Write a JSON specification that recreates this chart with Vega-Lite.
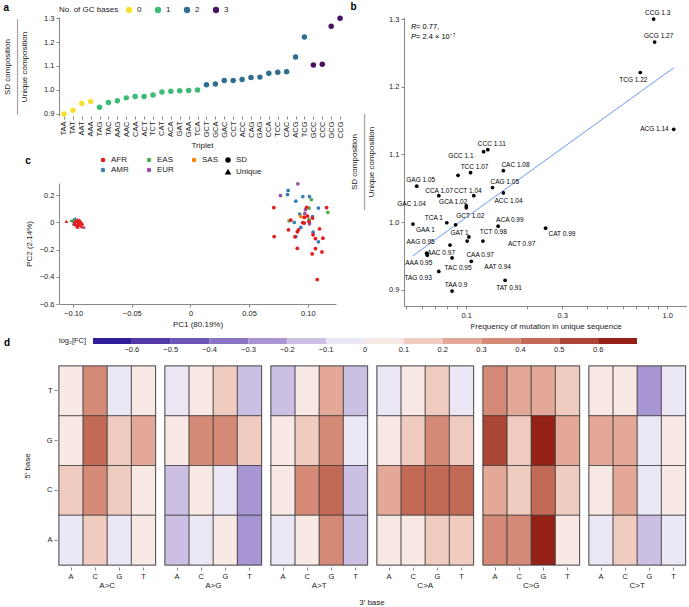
{
  "$schema": "https://vega.github.io/schema/vega-lite/v6.json",
  "background": "white",
  "padding": {"left": 3, "top": 2, "right": 0, "bottom": 0},
  "config": {
    "font": "Liberation Sans",
    "view": {"stroke": null},
    "axis": {"labelFontSize": 7.5, "titleFontSize": 8, "titleFontWeight": "normal", "tickSize": 3, "domainColor": "#888", "tickColor": "#888", "labelColor": "#222", "titleColor": "#222", "grid": false, "labelPadding": 2, "titlePadding": 4},
    "legend": {"labelFontSize": 8, "titleFontSize": 8, "titleFontWeight": "normal", "labelColor": "#222", "titleColor": "#222"},
    "header": {"labelFontSize": 8, "titleFontSize": 8, "titleFontWeight": "normal", "labelColor": "#222", "titleColor": "#222"},
    "title": {"fontSize": 10, "fontWeight": "bold", "anchor": "start", "frame": "bounds", "color": "#000", "offset": 2}
  },
  "datasets": {
    "trip": [
      {"t": "TAA", "r": 0.898, "gc": 0, "f": 0.085},
      {"t": "TAT", "r": 0.914, "gc": 0, "f": 0.156},
      {"t": "AAT", "r": 0.942, "gc": 0, "f": 0.106},
      {"t": "AAA", "r": 0.951, "gc": 0, "f": 0.064},
      {"t": "TAG", "r": 0.927, "gc": 1, "f": 0.073},
      {"t": "TAC", "r": 0.947, "gc": 1, "f": 0.085},
      {"t": "AAG", "r": 0.954, "gc": 1, "f": 0.0635},
      {"t": "AAC", "r": 0.966, "gc": 1, "f": 0.083},
      {"t": "CAA", "r": 0.972, "gc": 1, "f": 0.101},
      {"t": "ACT", "r": 0.972, "gc": 1, "f": 0.121},
      {"t": "TCT", "r": 0.978, "gc": 1, "f": 0.103},
      {"t": "CAT", "r": 0.991, "gc": 1, "f": 0.248},
      {"t": "ACA", "r": 0.994, "gc": 1, "f": 0.144},
      {"t": "GAT", "r": 0.996, "gc": 1, "f": 0.0885},
      {"t": "GAA", "r": 0.997, "gc": 1, "f": 0.0543},
      {"t": "TCA", "r": 0.999, "gc": 1, "f": 0.08},
      {"t": "GCT", "r": 1.021, "gc": 2, "f": 0.1},
      {"t": "GCA", "r": 1.024, "gc": 2, "f": 0.1},
      {"t": "GAC", "r": 1.039, "gc": 2, "f": 0.073},
      {"t": "CCT", "r": 1.039, "gc": 2, "f": 0.109},
      {"t": "ACC", "r": 1.043, "gc": 2, "f": 0.153},
      {"t": "CAG", "r": 1.051, "gc": 2, "f": 0.135},
      {"t": "GAG", "r": 1.053, "gc": 2, "f": 0.0567},
      {"t": "CCA", "r": 1.069, "gc": 2, "f": 0.091},
      {"t": "TCC", "r": 1.073, "gc": 2, "f": 0.105},
      {"t": "CAC", "r": 1.076, "gc": 2, "f": 0.153},
      {"t": "ACG", "r": 1.137, "gc": 2, "f": 1.076},
      {"t": "TCG", "r": 1.221, "gc": 2, "f": 0.734},
      {"t": "GCC", "r": 1.104, "gc": 3, "f": 0.122},
      {"t": "CCC", "r": 1.107, "gc": 3, "f": 0.128},
      {"t": "GCG", "r": 1.266, "gc": 3, "f": 0.865},
      {"t": "CCG", "r": 1.3, "gc": 3, "f": 0.855}
    ],
    "fit": [
      {"f": 0.0542, "r": 0.95},
      {"f": 1.076, "r": 1.228}
    ],
    "pca": [
      {"pc1": 0.0915, "pc2": 0.284, "pop": "EUR", "type": "SD"},
      {"pc1": 0.0767, "pc2": 0.198, "pop": "EUR", "type": "SD"},
      {"pc1": 0.098, "pc2": 0.094, "pop": "EUR", "type": "SD"},
      {"pc1": 0.0974, "pc2": 0.064, "pop": "EUR", "type": "SD"},
      {"pc1": 0.1014, "pc2": -0.01, "pop": "EUR", "type": "SD"},
      {"pc1": 0.0832, "pc2": 0.235, "pop": "AMR", "type": "SD"},
      {"pc1": 0.0827, "pc2": 0.205, "pop": "AMR", "type": "SD"},
      {"pc1": 0.0957, "pc2": 0.19, "pop": "AMR", "type": "SD"},
      {"pc1": 0.1014, "pc2": 0.19, "pop": "AMR", "type": "SD"},
      {"pc1": 0.0898, "pc2": 0.156, "pop": "AMR", "type": "SD"},
      {"pc1": 0.109, "pc2": 0.106, "pop": "AMR", "type": "SD"},
      {"pc1": 0.093, "pc2": 0.062, "pop": "AMR", "type": "SD"},
      {"pc1": 0.104, "pc2": 0.042, "pop": "AMR", "type": "SD"},
      {"pc1": 0.0884, "pc2": 0.0, "pop": "AMR", "type": "SD"},
      {"pc1": 0.094, "pc2": -0.037, "pop": "AMR", "type": "SD"},
      {"pc1": 0.1045, "pc2": -0.072, "pop": "AMR", "type": "SD"},
      {"pc1": 0.0898, "pc2": -0.104, "pop": "AMR", "type": "SD"},
      {"pc1": 0.109, "pc2": -0.143, "pop": "AMR", "type": "SD"},
      {"pc1": 0.103, "pc2": 0.168, "pop": "EAS", "type": "SD"},
      {"pc1": 0.101, "pc2": 0.106, "pop": "EAS", "type": "SD"},
      {"pc1": 0.117, "pc2": 0.074, "pop": "EAS", "type": "SD"},
      {"pc1": 0.101, "pc2": 0.02, "pop": "EAS", "type": "SD"},
      {"pc1": 0.084, "pc2": 0.012, "pop": "EAS", "type": "SD"},
      {"pc1": 0.094, "pc2": 0.044, "pop": "SAS", "type": "SD"},
      {"pc1": 0.071, "pc2": 0.109, "pop": "AFR", "type": "SD"},
      {"pc1": 0.099, "pc2": 0.111, "pop": "AFR", "type": "SD"},
      {"pc1": 0.116, "pc2": 0.109, "pop": "AFR", "type": "SD"},
      {"pc1": 0.0997, "pc2": 0.047, "pop": "AFR", "type": "SD"},
      {"pc1": 0.104, "pc2": 0.032, "pop": "AFR", "type": "SD"},
      {"pc1": 0.097, "pc2": 0.037, "pop": "AFR", "type": "SD"},
      {"pc1": 0.0855, "pc2": 0.017, "pop": "AFR", "type": "SD"},
      {"pc1": 0.0957, "pc2": -0.002, "pop": "AFR", "type": "SD"},
      {"pc1": 0.097, "pc2": -0.005, "pop": "AFR", "type": "SD"},
      {"pc1": 0.101, "pc2": 0.007, "pop": "AFR", "type": "SD"},
      {"pc1": 0.092, "pc2": -0.054, "pop": "AFR", "type": "SD"},
      {"pc1": 0.11, "pc2": -0.047, "pop": "AFR", "type": "SD"},
      {"pc1": 0.0835, "pc2": -0.054, "pop": "AFR", "type": "SD"},
      {"pc1": 0.091, "pc2": -0.069, "pop": "AFR", "type": "SD"},
      {"pc1": 0.1045, "pc2": -0.091, "pop": "AFR", "type": "SD"},
      {"pc1": 0.0713, "pc2": -0.104, "pop": "AFR", "type": "SD"},
      {"pc1": 0.089, "pc2": -0.106, "pop": "AFR", "type": "SD"},
      {"pc1": 0.1065, "pc2": -0.119, "pop": "AFR", "type": "SD"},
      {"pc1": 0.1128, "pc2": -0.116, "pop": "AFR", "type": "SD"},
      {"pc1": 0.091, "pc2": -0.19, "pop": "AFR", "type": "SD"},
      {"pc1": 0.1065, "pc2": -0.193, "pop": "AFR", "type": "SD"},
      {"pc1": 0.112, "pc2": -0.217, "pop": "AFR", "type": "SD"},
      {"pc1": 0.1037, "pc2": -0.232, "pop": "AFR", "type": "SD"},
      {"pc1": 0.108, "pc2": -0.42, "pop": "AFR", "type": "SD"},
      {"pc1": -0.0997, "pc2": 0.022, "pop": "AMR", "type": "Unique"},
      {"pc1": -0.098, "pc2": 0.03, "pop": "AMR", "type": "Unique"},
      {"pc1": -0.0995, "pc2": -0.01, "pop": "AMR", "type": "Unique"},
      {"pc1": -0.1, "pc2": 0.005, "pop": "AMR", "type": "Unique"},
      {"pc1": -0.1017, "pc2": 0.015, "pop": "EAS", "type": "Unique"},
      {"pc1": -0.099, "pc2": 0.02, "pop": "EAS", "type": "Unique"},
      {"pc1": -0.0906, "pc2": -0.035, "pop": "EUR", "type": "Unique"},
      {"pc1": -0.0985, "pc2": 0.0, "pop": "EUR", "type": "Unique"},
      {"pc1": -0.097, "pc2": 0.01, "pop": "SAS", "type": "Unique"},
      {"pc1": -0.1057, "pc2": 0.007, "pop": "AFR", "type": "Unique"},
      {"pc1": -0.0975, "pc2": 0.005, "pop": "AFR", "type": "Unique"},
      {"pc1": -0.096, "pc2": -0.01, "pop": "AFR", "type": "Unique"},
      {"pc1": -0.094, "pc2": 0.0, "pop": "AFR", "type": "Unique"},
      {"pc1": -0.0955, "pc2": 0.012, "pop": "AFR", "type": "Unique"},
      {"pc1": -0.0985, "pc2": -0.015, "pop": "AFR", "type": "Unique"},
      {"pc1": -0.093, "pc2": -0.02, "pop": "AFR", "type": "Unique"},
      {"pc1": -0.097, "pc2": -0.028, "pop": "AFR", "type": "Unique"},
      {"pc1": -0.095, "pc2": -0.022, "pop": "AFR", "type": "Unique"},
      {"pc1": -0.092, "pc2": -0.008, "pop": "AFR", "type": "Unique"},
      {"pc1": -0.0945, "pc2": 0.018, "pop": "AFR", "type": "Unique"},
      {"pc1": -0.0965, "pc2": 0.02, "pop": "AFR", "type": "Unique"},
      {"pc1": -0.0985, "pc2": 0.01, "pop": "AFR", "type": "Unique"},
      {"pc1": -0.0935, "pc2": 0.008, "pop": "AFR", "type": "Unique"},
      {"pc1": -0.096, "pc2": -0.035, "pop": "AFR", "type": "Unique"},
      {"pc1": -0.099, "pc2": -0.005, "pop": "AFR", "type": "Unique"},
      {"pc1": -0.0925, "pc2": -0.03, "pop": "AFR", "type": "Unique"},
      {"pc1": -0.0955, "pc2": -0.005, "pop": "AFR", "type": "Unique"},
      {"pc1": -0.0945, "pc2": -0.012, "pop": "AFR", "type": "Unique"},
      {"pc1": -0.097, "pc2": -0.018, "pop": "AFR", "type": "Unique"}
    ],
    "heat": [
      {"m": "A>C", "f": "T", "t": "A", "v": 0.05}, {"m": "A>C", "f": "T", "t": "C", "v": 0.35}, {"m": "A>C", "f": "T", "t": "G", "v": -0.05}, {"m": "A>C", "f": "T", "t": "T", "v": 0.05},
      {"m": "A>C", "f": "G", "t": "A", "v": 0.05}, {"m": "A>C", "f": "G", "t": "C", "v": 0.45}, {"m": "A>C", "f": "G", "t": "G", "v": 0.15}, {"m": "A>C", "f": "G", "t": "T", "v": 0.25},
      {"m": "A>C", "f": "C", "t": "A", "v": 0.15}, {"m": "A>C", "f": "C", "t": "C", "v": 0.35}, {"m": "A>C", "f": "C", "t": "G", "v": 0.15}, {"m": "A>C", "f": "C", "t": "T", "v": 0.05},
      {"m": "A>C", "f": "A", "t": "A", "v": -0.05}, {"m": "A>C", "f": "A", "t": "C", "v": 0.15}, {"m": "A>C", "f": "A", "t": "G", "v": -0.05}, {"m": "A>C", "f": "A", "t": "T", "v": 0.05},
      {"m": "A>G", "f": "T", "t": "A", "v": -0.05}, {"m": "A>G", "f": "T", "t": "C", "v": 0.05}, {"m": "A>G", "f": "T", "t": "G", "v": 0.15}, {"m": "A>G", "f": "T", "t": "T", "v": -0.15},
      {"m": "A>G", "f": "G", "t": "A", "v": 0.05}, {"m": "A>G", "f": "G", "t": "C", "v": 0.35}, {"m": "A>G", "f": "G", "t": "G", "v": 0.35}, {"m": "A>G", "f": "G", "t": "T", "v": 0.15},
      {"m": "A>G", "f": "C", "t": "A", "v": -0.15}, {"m": "A>G", "f": "C", "t": "C", "v": 0.05}, {"m": "A>G", "f": "C", "t": "G", "v": -0.05}, {"m": "A>G", "f": "C", "t": "T", "v": -0.25},
      {"m": "A>G", "f": "A", "t": "A", "v": -0.15}, {"m": "A>G", "f": "A", "t": "C", "v": -0.05}, {"m": "A>G", "f": "A", "t": "G", "v": 0.05}, {"m": "A>G", "f": "A", "t": "T", "v": -0.25},
      {"m": "A>T", "f": "T", "t": "A", "v": -0.15}, {"m": "A>T", "f": "T", "t": "C", "v": 0.05}, {"m": "A>T", "f": "T", "t": "G", "v": 0.25}, {"m": "A>T", "f": "T", "t": "T", "v": -0.15},
      {"m": "A>T", "f": "G", "t": "A", "v": 0.05}, {"m": "A>T", "f": "G", "t": "C", "v": 0.15}, {"m": "A>T", "f": "G", "t": "G", "v": 0.35}, {"m": "A>T", "f": "G", "t": "T", "v": -0.05},
      {"m": "A>T", "f": "C", "t": "A", "v": 0.05}, {"m": "A>T", "f": "C", "t": "C", "v": 0.35}, {"m": "A>T", "f": "C", "t": "G", "v": 0.45}, {"m": "A>T", "f": "C", "t": "T", "v": -0.15},
      {"m": "A>T", "f": "A", "t": "A", "v": -0.05}, {"m": "A>T", "f": "A", "t": "C", "v": 0.05}, {"m": "A>T", "f": "A", "t": "G", "v": 0.35}, {"m": "A>T", "f": "A", "t": "T", "v": -0.15},
      {"m": "C>A", "f": "T", "t": "A", "v": -0.05}, {"m": "C>A", "f": "T", "t": "C", "v": 0.05}, {"m": "C>A", "f": "T", "t": "G", "v": 0.15}, {"m": "C>A", "f": "T", "t": "T", "v": -0.05},
      {"m": "C>A", "f": "G", "t": "A", "v": 0.05}, {"m": "C>A", "f": "G", "t": "C", "v": 0.15}, {"m": "C>A", "f": "G", "t": "G", "v": 0.35}, {"m": "C>A", "f": "G", "t": "T", "v": 0.15},
      {"m": "C>A", "f": "C", "t": "A", "v": 0.25}, {"m": "C>A", "f": "C", "t": "C", "v": 0.45}, {"m": "C>A", "f": "C", "t": "G", "v": 0.45}, {"m": "C>A", "f": "C", "t": "T", "v": 0.45},
      {"m": "C>A", "f": "A", "t": "A", "v": 0.05}, {"m": "C>A", "f": "A", "t": "C", "v": 0.05}, {"m": "C>A", "f": "A", "t": "G", "v": 0.15}, {"m": "C>A", "f": "A", "t": "T", "v": 0.15},
      {"m": "C>G", "f": "T", "t": "A", "v": 0.35}, {"m": "C>G", "f": "T", "t": "C", "v": 0.25}, {"m": "C>G", "f": "T", "t": "G", "v": 0.25}, {"m": "C>G", "f": "T", "t": "T", "v": 0.15},
      {"m": "C>G", "f": "G", "t": "A", "v": 0.55}, {"m": "C>G", "f": "G", "t": "C", "v": 0.15}, {"m": "C>G", "f": "G", "t": "G", "v": 0.65}, {"m": "C>G", "f": "G", "t": "T", "v": 0.25},
      {"m": "C>G", "f": "C", "t": "A", "v": 0.25}, {"m": "C>G", "f": "C", "t": "C", "v": 0.15}, {"m": "C>G", "f": "C", "t": "G", "v": 0.45}, {"m": "C>G", "f": "C", "t": "T", "v": 0.15},
      {"m": "C>G", "f": "A", "t": "A", "v": 0.35}, {"m": "C>G", "f": "A", "t": "C", "v": 0.35}, {"m": "C>G", "f": "A", "t": "G", "v": 0.65}, {"m": "C>G", "f": "A", "t": "T", "v": 0.05},
      {"m": "C>T", "f": "T", "t": "A", "v": 0.05}, {"m": "C>T", "f": "T", "t": "C", "v": 0.05}, {"m": "C>T", "f": "T", "t": "G", "v": -0.25}, {"m": "C>T", "f": "T", "t": "T", "v": -0.05},
      {"m": "C>T", "f": "G", "t": "A", "v": 0.25}, {"m": "C>T", "f": "G", "t": "C", "v": 0.25}, {"m": "C>T", "f": "G", "t": "G", "v": -0.05}, {"m": "C>T", "f": "G", "t": "T", "v": 0.05},
      {"m": "C>T", "f": "C", "t": "A", "v": 0.05}, {"m": "C>T", "f": "C", "t": "C", "v": 0.25}, {"m": "C>T", "f": "C", "t": "G", "v": -0.05}, {"m": "C>T", "f": "C", "t": "T", "v": 0.05},
      {"m": "C>T", "f": "A", "t": "A", "v": -0.05}, {"m": "C>T", "f": "A", "t": "C", "v": 0.15}, {"m": "C>T", "f": "A", "t": "G", "v": -0.15}, {"m": "C>T", "f": "A", "t": "T", "v": -0.05}
    ]
  },
  "vconcat": [
    {
      "hconcat": [
        {
          "vconcat": [
            {
              "title": {"text": "a", "dy": 9},
              "width": 286,
              "height": 99,
              "data": {"name": "trip"},
              "mark": {"type": "circle", "size": 30, "opacity": 1},
              "encoding": {
                "x": {"field": "t", "type": "nominal", "sort": null, "scale": {"type": "point", "padding": 0.55},
                      "axis": {"title": "Triplet", "labelAngle": -90, "domain": false, "labelPadding": 2, "titlePadding": 3}},
                "y": {"field": "r", "type": "quantitative", "scale": {"domain": [0.89, 1.305], "nice": false, "zero": false},
                      "axis": {"values": [0.9, 1.0, 1.1, 1.2, 1.3], "format": ".1f", "title": ["SD composition", "————————————", "Unique composition"], "titleLineHeight": 8.5, "titlePadding": 15}},
                "color": {"field": "gc", "type": "ordinal", "scale": {"domain": [0, 1, 2, 3], "range": ["#f6e130", "#3cbb75", "#2e6e8e", "#481262"]},
                          "legend": {"title": "No. of GC bases", "orient": "top", "direction": "horizontal", "titleOrient": "left", "symbolType": "circle", "symbolSize": 40, "columnPadding": 12, "offset": 3, "titlePadding": 6}}
              }
            },
            {
              "title": {"text": "c", "dy": 12},
              "width": 277,
              "height": 121,
              "data": {"name": "pca"},
              "mark": {"type": "point", "filled": true, "size": 14, "opacity": 1},
              "encoding": {
                "x": {"field": "pc1", "type": "quantitative", "scale": {"domain": [-0.112, 0.124], "nice": false, "zero": false},
                      "axis": {"values": [-0.1, -0.05, 0, 0.05, 0.1], "labelExpr": "datum.value == 0 ? '0' : format(datum.value, '.2f')", "title": "PC1 (80.19%)"}},
                "y": {"field": "pc2", "type": "quantitative", "scale": {"domain": [-0.6, 0.29], "nice": false, "zero": false},
                      "axis": {"values": [-0.6, -0.4, -0.2, 0, 0.2], "labelExpr": "datum.value == 0 ? '0' : format(datum.value, '.1f')", "title": "PC2 (2.14%)", "titlePadding": 6}},
                "color": {"field": "pop", "type": "nominal", "scale": {"domain": ["AFR", "EAS", "SAS", "AMR", "EUR"], "range": ["#e41a1c", "#4daf4a", "#ff7f00", "#377eb8", "#984ea3"]},
                          "legend": {"title": null, "orient": "none", "legendX": 40, "legendY": -27, "direction": "horizontal", "columns": 3, "symbolType": "circle", "symbolSize": 20, "columnPadding": 16, "rowPadding": 2}},
                "shape": {"field": "type", "type": "nominal", "scale": {"domain": ["SD", "Unique"], "range": ["circle", "triangle-up"]},
                          "legend": {"title": null, "orient": "none", "legendX": 165, "legendY": -27, "direction": "horizontal", "columns": 1, "symbolFillColor": "black", "symbolStrokeColor": "black", "symbolSize": 16, "rowPadding": 2}}
              }
            }
          ],
          "spacing": 6,
          "resolve": {"scale": {"color": "independent", "shape": "independent"}}
        },
        {
          "title": {"text": "b", "dy": 4},
          "width": 283,
          "height": 289,
          "data": {"name": "trip"},
          "encoding": {
            "x": {"field": "f", "type": "quantitative", "scale": {"type": "log", "domain": [0.049, 1.253], "nice": false},
                  "axis": {"values": [0.05, 0.06, 0.07, 0.08, 0.09, 0.1, 0.2, 0.3, 0.4, 0.5, 0.6, 0.7, 0.8, 0.9, 1], "labelExpr": "datum.value == 0.1 ? '0.1' : datum.value == 0.3 ? '0.3' : datum.value == 1 ? '1.0' : ''", "title": "Frequency of mutation in unique sequence", "labelFlush": false, "labelOverlap": false}},
            "y": {"field": "r", "type": "quantitative", "scale": {"domain": [0.876, 1.303], "nice": false, "zero": false},
                  "axis": {"values": [0.9, 1.0, 1.1, 1.2, 1.3], "format": ".1f", "title": ["SD composition", "————————————", "Unique composition"], "titleLineHeight": 8.5, "titlePadding": 13}}
          },
          "layer": [
            {"data": {"name": "fit"}, "mark": {"type": "line", "color": "#5b8ff0", "strokeWidth": 0.9}},
            {"mark": {"type": "circle", "size": 14, "color": "black", "opacity": 1}},
            {"transform": [{"filter": {"field": "t", "oneOf": ["CCG", "GCG", "CCC", "TCC", "GAG", "TAA"]}}, {"calculate": "datum.t + ' ' + (round(datum.r * 100) / 100)", "as": "lab"}], "mark": {"type": "text", "fontSize": 6.5, "align": "center", "dx": 4, "dy": -6}, "encoding": {"text": {"field": "lab"}}},
            {"transform": [{"filter": {"field": "t", "oneOf": ["CCT"]}}, {"calculate": "datum.t + ' ' + (round(datum.r * 100) / 100)", "as": "lab"}], "mark": {"type": "text", "fontSize": 6.5, "align": "center", "dx": -6, "dy": -5}, "encoding": {"text": {"field": "lab"}}},
            {"transform": [{"filter": {"field": "t", "oneOf": ["TCG"]}}, {"calculate": "datum.t + ' ' + (round(datum.r * 100) / 100)", "as": "lab"}], "mark": {"type": "text", "fontSize": 6.5, "align": "center", "dx": -7, "dy": 8}, "encoding": {"text": {"field": "lab"}}},
            {"transform": [{"filter": {"field": "t", "oneOf": ["GCT", "GAT", "TAT"]}}, {"calculate": "datum.t + ' ' + (round(datum.r * 100) / 100)", "as": "lab"}], "mark": {"type": "text", "fontSize": 6.5, "align": "center", "dx": 4, "dy": 8}, "encoding": {"text": {"field": "lab"}}},
            {"transform": [{"filter": {"field": "t", "oneOf": ["CAA"]}}, {"calculate": "datum.t + ' ' + (round(datum.r * 100) / 100)", "as": "lab"}], "mark": {"type": "text", "fontSize": 6.5, "align": "center", "dx": 13, "dy": 14}, "encoding": {"text": {"field": "lab"}}},
            {"transform": [{"filter": {"field": "t", "oneOf": ["AAG"]}}, {"calculate": "datum.t + ' ' + (round(datum.r * 100) / 100)", "as": "lab"}], "mark": {"type": "text", "fontSize": 6.5, "align": "center", "dx": -6, "dy": -11}, "encoding": {"text": {"field": "lab"}}},
            {"transform": [{"filter": {"field": "t", "oneOf": ["TAC"]}}, {"calculate": "datum.t + ' ' + (round(datum.r * 100) / 100)", "as": "lab"}], "mark": {"type": "text", "fontSize": 6.5, "align": "center", "dx": 6, "dy": 10}, "encoding": {"text": {"field": "lab"}}},
            {"transform": [{"filter": {"field": "t", "oneOf": ["CAC", "CAG", "ACA"]}}, {"calculate": "datum.t + ' ' + (round(datum.r * 100) / 100)", "as": "lab"}], "mark": {"type": "text", "fontSize": 6.5, "align": "left", "dx": -2, "dy": -6}, "encoding": {"text": {"field": "lab"}}},
            {"transform": [{"filter": {"field": "t", "oneOf": ["GAA", "CAT"]}}, {"calculate": "datum.t + ' ' + (round(datum.r * 100) / 100)", "as": "lab"}], "mark": {"type": "text", "fontSize": 6.5, "align": "left", "dx": 3, "dy": 6}, "encoding": {"text": {"field": "lab"}}},
            {"transform": [{"filter": {"field": "t", "oneOf": ["ACC"]}}, {"calculate": "datum.t + ' ' + (round(datum.r * 100) / 100)", "as": "lab"}], "mark": {"type": "text", "fontSize": 6.5, "align": "left", "dx": -9, "dy": 8}, "encoding": {"text": {"field": "lab"}}},
            {"transform": [{"filter": {"field": "t", "oneOf": ["TCT"]}}, {"calculate": "datum.t + ' ' + (round(datum.r * 100) / 100)", "as": "lab"}], "mark": {"type": "text", "fontSize": 6.5, "align": "left", "dx": 11, "dy": -5}, "encoding": {"text": {"field": "lab"}}},
            {"transform": [{"filter": {"field": "t", "oneOf": ["ACT"]}}, {"calculate": "datum.t + ' ' + (round(datum.r * 100) / 100)", "as": "lab"}], "mark": {"type": "text", "fontSize": 6.5, "align": "left", "dx": 25, "dy": 3}, "encoding": {"text": {"field": "lab"}}},
            {"transform": [{"filter": {"field": "t", "oneOf": ["AAT"]}}, {"calculate": "datum.t + ' ' + (round(datum.r * 100) / 100)", "as": "lab"}], "mark": {"type": "text", "fontSize": 6.5, "align": "left", "dx": 13, "dy": 6}, "encoding": {"text": {"field": "lab"}}},
            {"transform": [{"filter": {"field": "t", "oneOf": ["ACG"]}}, {"calculate": "datum.t + ' ' + (round(datum.r * 100) / 100)", "as": "lab"}], "mark": {"type": "text", "fontSize": 6.5, "align": "right", "dx": -5, "dy": 0}, "encoding": {"text": {"field": "lab"}}},
            {"transform": [{"filter": {"field": "t", "oneOf": ["GCC"]}}, {"calculate": "datum.t + ' ' + (round(datum.r * 100) / 100)", "as": "lab"}], "mark": {"type": "text", "fontSize": 6.5, "align": "right", "dx": -10, "dy": 4}, "encoding": {"text": {"field": "lab"}}},
            {"transform": [{"filter": {"field": "t", "oneOf": ["CCA"]}}, {"calculate": "datum.t + ' ' + (round(datum.r * 100) / 100)", "as": "lab"}], "mark": {"type": "text", "fontSize": 6.5, "align": "right", "dx": -5, "dy": 16}, "encoding": {"text": {"field": "lab"}}},
            {"transform": [{"filter": {"field": "t", "oneOf": ["GAC"]}}, {"calculate": "datum.t + ' ' + (round(datum.r * 100) / 100)", "as": "lab"}], "mark": {"type": "text", "fontSize": 6.5, "align": "right", "dx": -13, "dy": 8}, "encoding": {"text": {"field": "lab"}}},
            {"transform": [{"filter": {"field": "t", "oneOf": ["GCA"]}}, {"calculate": "datum.t + ' ' + (round(datum.r * 100) / 100)", "as": "lab"}], "mark": {"type": "text", "fontSize": 6.5, "align": "right", "dx": 1, "dy": -4}, "encoding": {"text": {"field": "lab"}}},
            {"transform": [{"filter": {"field": "t", "oneOf": ["TCA"]}}, {"calculate": "datum.t + ' ' + (round(datum.r * 100) / 100)", "as": "lab"}], "mark": {"type": "text", "fontSize": 6.5, "align": "right", "dx": -4, "dy": -5}, "encoding": {"text": {"field": "lab"}}},
            {"transform": [{"filter": {"field": "t", "oneOf": ["AAC", "AAA"]}}, {"calculate": "datum.t + ' ' + (round(datum.r * 100) / 100)", "as": "lab"}], "mark": {"type": "text", "fontSize": 6.5, "align": "right", "dx": 5, "dy": 8}, "encoding": {"text": {"field": "lab"}}},
            {"transform": [{"filter": {"field": "t", "oneOf": ["TAG"]}}, {"calculate": "datum.t + ' ' + (round(datum.r * 100) / 100)", "as": "lab"}], "mark": {"type": "text", "fontSize": 6.5, "align": "right", "dx": -7, "dy": 7}, "encoding": {"text": {"field": "lab"}}},
            {"transform": [{"filter": "datum.t == 'CCG'"}], "mark": {"type": "text", "fontSize": 7.5, "align": "left", "baseline": "middle", "fontStyle": "italic", "lineHeight": 10, "text": ["R", "P"]}, "encoding": {"x": {"datum": 0.0531}, "y": {"datum": 1.288}}},
            {"transform": [{"filter": "datum.t == 'CCG'"}], "mark": {"type": "text", "fontSize": 7.5, "align": "left", "baseline": "middle", "dx": 5, "lineHeight": 10, "text": [" = 0.77,", "= 2.4 × 10⁻⁷"]}, "encoding": {"x": {"datum": 0.0531}, "y": {"datum": 1.288}}}
          ]
        }
      ],
      "spacing": 5,
      "resolve": {"scale": {"color": "independent", "shape": "independent"}}
    },
    {
      "title": {"text": "d", "frame": "group", "dx": -55, "dy": 12},
      "data": {"name": "heat"},
      "facet": {"column": {"field": "m", "type": "nominal", "sort": ["A>C", "A>G", "A>T", "C>A", "C>G", "C>T"],
                            "header": {"labelOrient": "bottom", "titleOrient": "bottom", "title": "3′ base", "labelPadding": 2, "titlePadding": -1}}},
      "spacing": 6,
      "spec": {
        "width": 96.5,
        "height": 199,
        "view": {"stroke": "#999", "strokeWidth": 1.5},
        "mark": {"type": "rect", "stroke": "#333", "strokeWidth": 0.7},
        "encoding": {
          "x": {"field": "t", "type": "nominal", "sort": ["A", "C", "G", "T"], "axis": {"title": null, "labelAngle": 0, "domain": false}},
          "y": {"field": "f", "type": "nominal", "sort": ["T", "G", "C", "A"], "axis": {"title": "5′ base", "domain": false, "titleX": -26}},
          "color": {"field": "v", "type": "quantitative",
                    "scale": {"type": "threshold", "domain": [-0.6, -0.5, -0.4, -0.3, -0.2, -0.1, 0, 0.1, 0.2, 0.3, 0.4, 0.5, 0.6],
                              "range": ["#2e1e9c", "#5238aa", "#6c55b8", "#8a75c5", "#a895d3", "#cbc0e4", "#ebe7f4", "#f8e9e4", "#f0cbc0", "#e4a898", "#d48a76", "#c26a56", "#ac4636", "#952116"]},
                    "legend": {"title": "log₂[FC]", "orient": "top", "direction": "horizontal", "type": "gradient", "gradientLength": 544, "gradientThickness": 6, "titleOrient": "left", "titlePadding": 6, "gradientStrokeWidth": 0, "offset": 10, "labelFontSize": 7.5, "titleFontSize": 7.5, "labelExpr": "isFinite(datum.value) ? (abs(datum.value) < 0.001 ? '0' : format(datum.value, '.1f')) : ''"}}
        }
      }
    }
  ],
  "spacing": 7,
  "resolve": {"scale": {"color": "independent", "shape": "independent"}}
}
